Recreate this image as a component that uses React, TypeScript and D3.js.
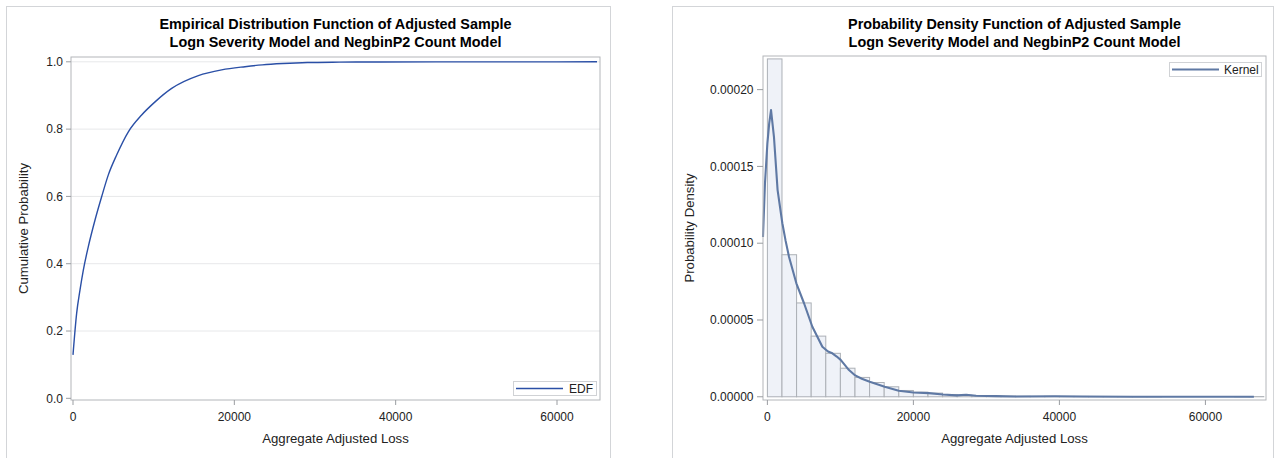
import React from "react";
import * as d3 from "d3";

// ---------- data ----------
const edfX = [0, 455, 870, 1280, 1900, 2730, 3550, 4380, 5410, 6860, 8510, 10170, 12230, 15540, 18430, 21320, 23470, 26000, 29050, 33000, 38000, 45000, 55000, 64960];
const edfY = [0.129, 0.253, 0.322, 0.381, 0.451, 0.53, 0.599, 0.664, 0.723, 0.792, 0.842, 0.881, 0.921, 0.959, 0.976, 0.9855, 0.991, 0.995, 0.998, 0.999, 0.9995, 0.9998, 0.9999, 1.0];

const binWidth = 2000;
const histDensity = [
  0.00022, 0.0000925, 0.0000611, 0.0000395, 0.0000283, 0.0000186, 0.0000126, 0.0000093, 0.0000065, 0.0000041,
  0.000003, 0.0000024, 0.0000015, 0.000001, 0.0000008, 0.0000005, 0.0000004, 0.0000003, 0.0000002, 0.0000003,
  0.0000002, 0.0000002, 0.0000001, 0.0000001, 0.0000001, 0.0000001, 0.0000001, 0, 0, 0, 0, 0, 0.0000001, 0.0000001,
];

const kernelX = [-600, -330, 0, 250, 500, 900, 1400, 2050, 2500, 2960, 3970, 5020, 6160, 7530, 8300, 8900, 9500, 10040, 11180, 12030, 12940, 14020, 16070, 18000, 20000, 22100, 24050, 25890, 27240, 28590, 31300, 34000, 39370, 43150, 50000, 66640];
const kernelY = [0.000104, 0.000139, 0.000165, 0.000178, 0.0001867, 0.0001693, 0.0001346, 0.000113, 0.0001015, 0.0000912, 0.0000739, 0.0000609, 0.0000456, 0.0000326, 0.0000295, 0.0000283, 0.0000262, 0.000024, 0.0000174, 0.0000139, 0.0000117, 0.0000098, 0.0000065, 0.0000039, 0.0000028, 0.0000024, 0.0000015, 0.0000009, 0.0000013, 0.0000007, 0.0000004, 0.0000002, 0.0000003, 0.0000002, 0, 0];

const xTicks = [0, 20000, 40000, 60000];
const edfYTicks = [0, 0.2, 0.4, 0.6, 0.8, 1.0];
const pdfYTicks = [0, 0.00005, 0.0001, 0.00015, 0.0002];

const titleLeft = ["Empirical Distribution Function of Adjusted Sample", "Logn Severity Model and NegbinP2 Count Model"];
const titleRight = ["Probability Density Function of Adjusted Sample", "Logn Severity Model and NegbinP2 Count Model"];
const xLabel = "Aggregate Adjusted Loss";

const FONT = "'Liberation Sans', Arial, Helvetica, sans-serif";
const FRAME = "#b3b6ba";
const TICKC = "#9a9da1";
const TXT = "#222";

function Titles({ lines, cx }: { lines: string[]; cx: number }) {
  return (
    <g fontFamily={FONT} fontWeight="bold" fontSize={14.4} fill="#000" textAnchor="middle">
      <text x={cx} y={29}>{lines[0]}</text>
      <text x={cx} y={46.5}>{lines[1]}</text>
    </g>
  );
}

function EdfChart() {
  const L = 71, R = 600, T = 57, B = 400;
  const x = d3.scaleLinear().domain([-248, 65330]).range([L, R]);
  const y = d3.scaleLinear().domain([-0.005, 1.0143]).range([B, T]);
  const pts = edfX.map((v, i) => [v, edfY[i]] as [number, number]);
  const line = d3.line<[number, number]>().x((d) => x(d[0])).y((d) => y(d[1])).curve(d3.curveMonotoneX);
  return (
    <g>
      <rect x={6.5} y={6.5} width={604} height={470} fill="#fff" stroke="#d3d5d8" />
      <Titles lines={titleLeft} cx={(L + R) / 2} />
      {edfYTicks.filter((t) => t > 0).map((t) => (
        <line key={t} x1={L} x2={R} y1={y(t)} y2={y(t)} stroke="#e7e8ea" strokeWidth={1} />
      ))}
      <path d={line(pts) || ""} fill="none" stroke="#2a4fa6" strokeWidth={1.4} />
      <rect x={L} y={T} width={R - L} height={B - T} fill="none" stroke={FRAME} />
      {edfYTicks.map((t) => (
        <g key={t}>
          <line x1={L - 5} x2={L} y1={y(t)} y2={y(t)} stroke={TICKC} />
          <text x={63} y={y(t) + 4.2} textAnchor="end" fontFamily={FONT} fontSize={12} fill={TXT}>{d3.format(".1f")(t)}</text>
        </g>
      ))}
      {xTicks.map((t) => (
        <g key={t}>
          <line x1={x(t)} x2={x(t)} y1={B} y2={B + 5} stroke={TICKC} />
          <text x={x(t)} y={420.5} textAnchor="middle" fontFamily={FONT} fontSize={12} fill={TXT}>{t}</text>
        </g>
      ))}
      <text x={(L + R) / 2} y={443} textAnchor="middle" fontFamily={FONT} fontSize={13.2} fill={TXT}>{xLabel}</text>
      <text transform={`translate(28,${(T + B) / 2}) rotate(-90)`} textAnchor="middle" fontFamily={FONT} fontSize={13.2} fill={TXT}>Cumulative Probability</text>
      <g>
        <rect x={513.5} y={381.5} width={83} height={14} fill="#fff" stroke="#d0d2d5" />
        <line x1={516} x2={563} y1={388.5} y2={388.5} stroke="#2a4fa6" strokeWidth={1.4} />
        <text x={569} y={392.8} fontFamily={FONT} fontSize={12} fill={TXT}>EDF</text>
      </g>
    </g>
  );
}

function PdfChart() {
  const L = 763, R = 1266, T = 56, B = 400;
  const x = d3.scaleLinear().domain([-600, 68300]).range([L, R]);
  const y = d3.scaleLinear().domain([-0.0000021, 0.0002219]).range([B, T]);
  const bins = histDensity.map((v, i) => ({ x0: i * binWidth, x1: (i + 1) * binWidth, v }));
  const pts = kernelX.map((v, i) => [v, kernelY[i]] as [number, number]);
  const line = d3.line<[number, number]>().x((d) => x(d[0])).y((d) => y(d[1])).curve(d3.curveLinear);
  return (
    <g>
      <rect x={672.5} y={6.5} width={601} height={470} fill="#fff" stroke="#d3d5d8" />
      <Titles lines={titleRight} cx={(L + R) / 2} />
      {bins.map((b, i) => (
        <rect key={i} x={x(b.x0)} y={y(b.v)} width={x(b.x1) - x(b.x0)} height={Math.max(0, y(0) - y(b.v))}
          fill="#eff2f8" stroke="#acb0b6" strokeWidth={1} />
      ))}
      <path d={line(pts) || ""} fill="none" stroke="#5f79a4" strokeWidth={2.1} strokeLinejoin="round" />
      <rect x={L} y={T} width={R - L} height={B - T} fill="none" stroke={FRAME} />
      {pdfYTicks.map((t) => (
        <g key={t}>
          <line x1={L - 6} x2={L} y1={y(t)} y2={y(t)} stroke={TICKC} />
          <text x={753.5} y={y(t) + 4.2} textAnchor="end" fontFamily={FONT} fontSize={12} fill={TXT}>{d3.format(".5f")(t)}</text>
        </g>
      ))}
      {xTicks.map((t) => (
        <g key={t}>
          <line x1={x(t)} x2={x(t)} y1={B} y2={B + 5} stroke={TICKC} />
          <text x={x(t)} y={420.5} textAnchor="middle" fontFamily={FONT} fontSize={12} fill={TXT}>{t}</text>
        </g>
      ))}
      <text x={(L + R) / 2} y={443} textAnchor="middle" fontFamily={FONT} fontSize={13.2} fill={TXT}>{xLabel}</text>
      <text transform={`translate(694,${(T + B) / 2}) rotate(-90)`} textAnchor="middle" fontFamily={FONT} fontSize={13.2} fill={TXT}>Probability Density</text>
      <g>
        <rect x={1169.5} y={62.5} width={92} height={14} fill="#fff" stroke="#d0d2d5" />
        <line x1={1172} x2={1219} y1={69.5} y2={69.5} stroke="#5f79a4" strokeWidth={2.1} />
        <text x={1224} y={73.8} fontFamily={FONT} fontSize={12} fill={TXT}>Kernel</text>
      </g>
    </g>
  );
}

export default function App() {
  return (
    <svg width={1277} height={458} viewBox="0 0 1277 458" style={{ position: "absolute", left: 0, top: 0, background: "#fff" }}>
      <rect x={0} y={0} width={1277} height={458} fill="#fff" />
      <EdfChart />
      <PdfChart />
    </svg>
  );
}
